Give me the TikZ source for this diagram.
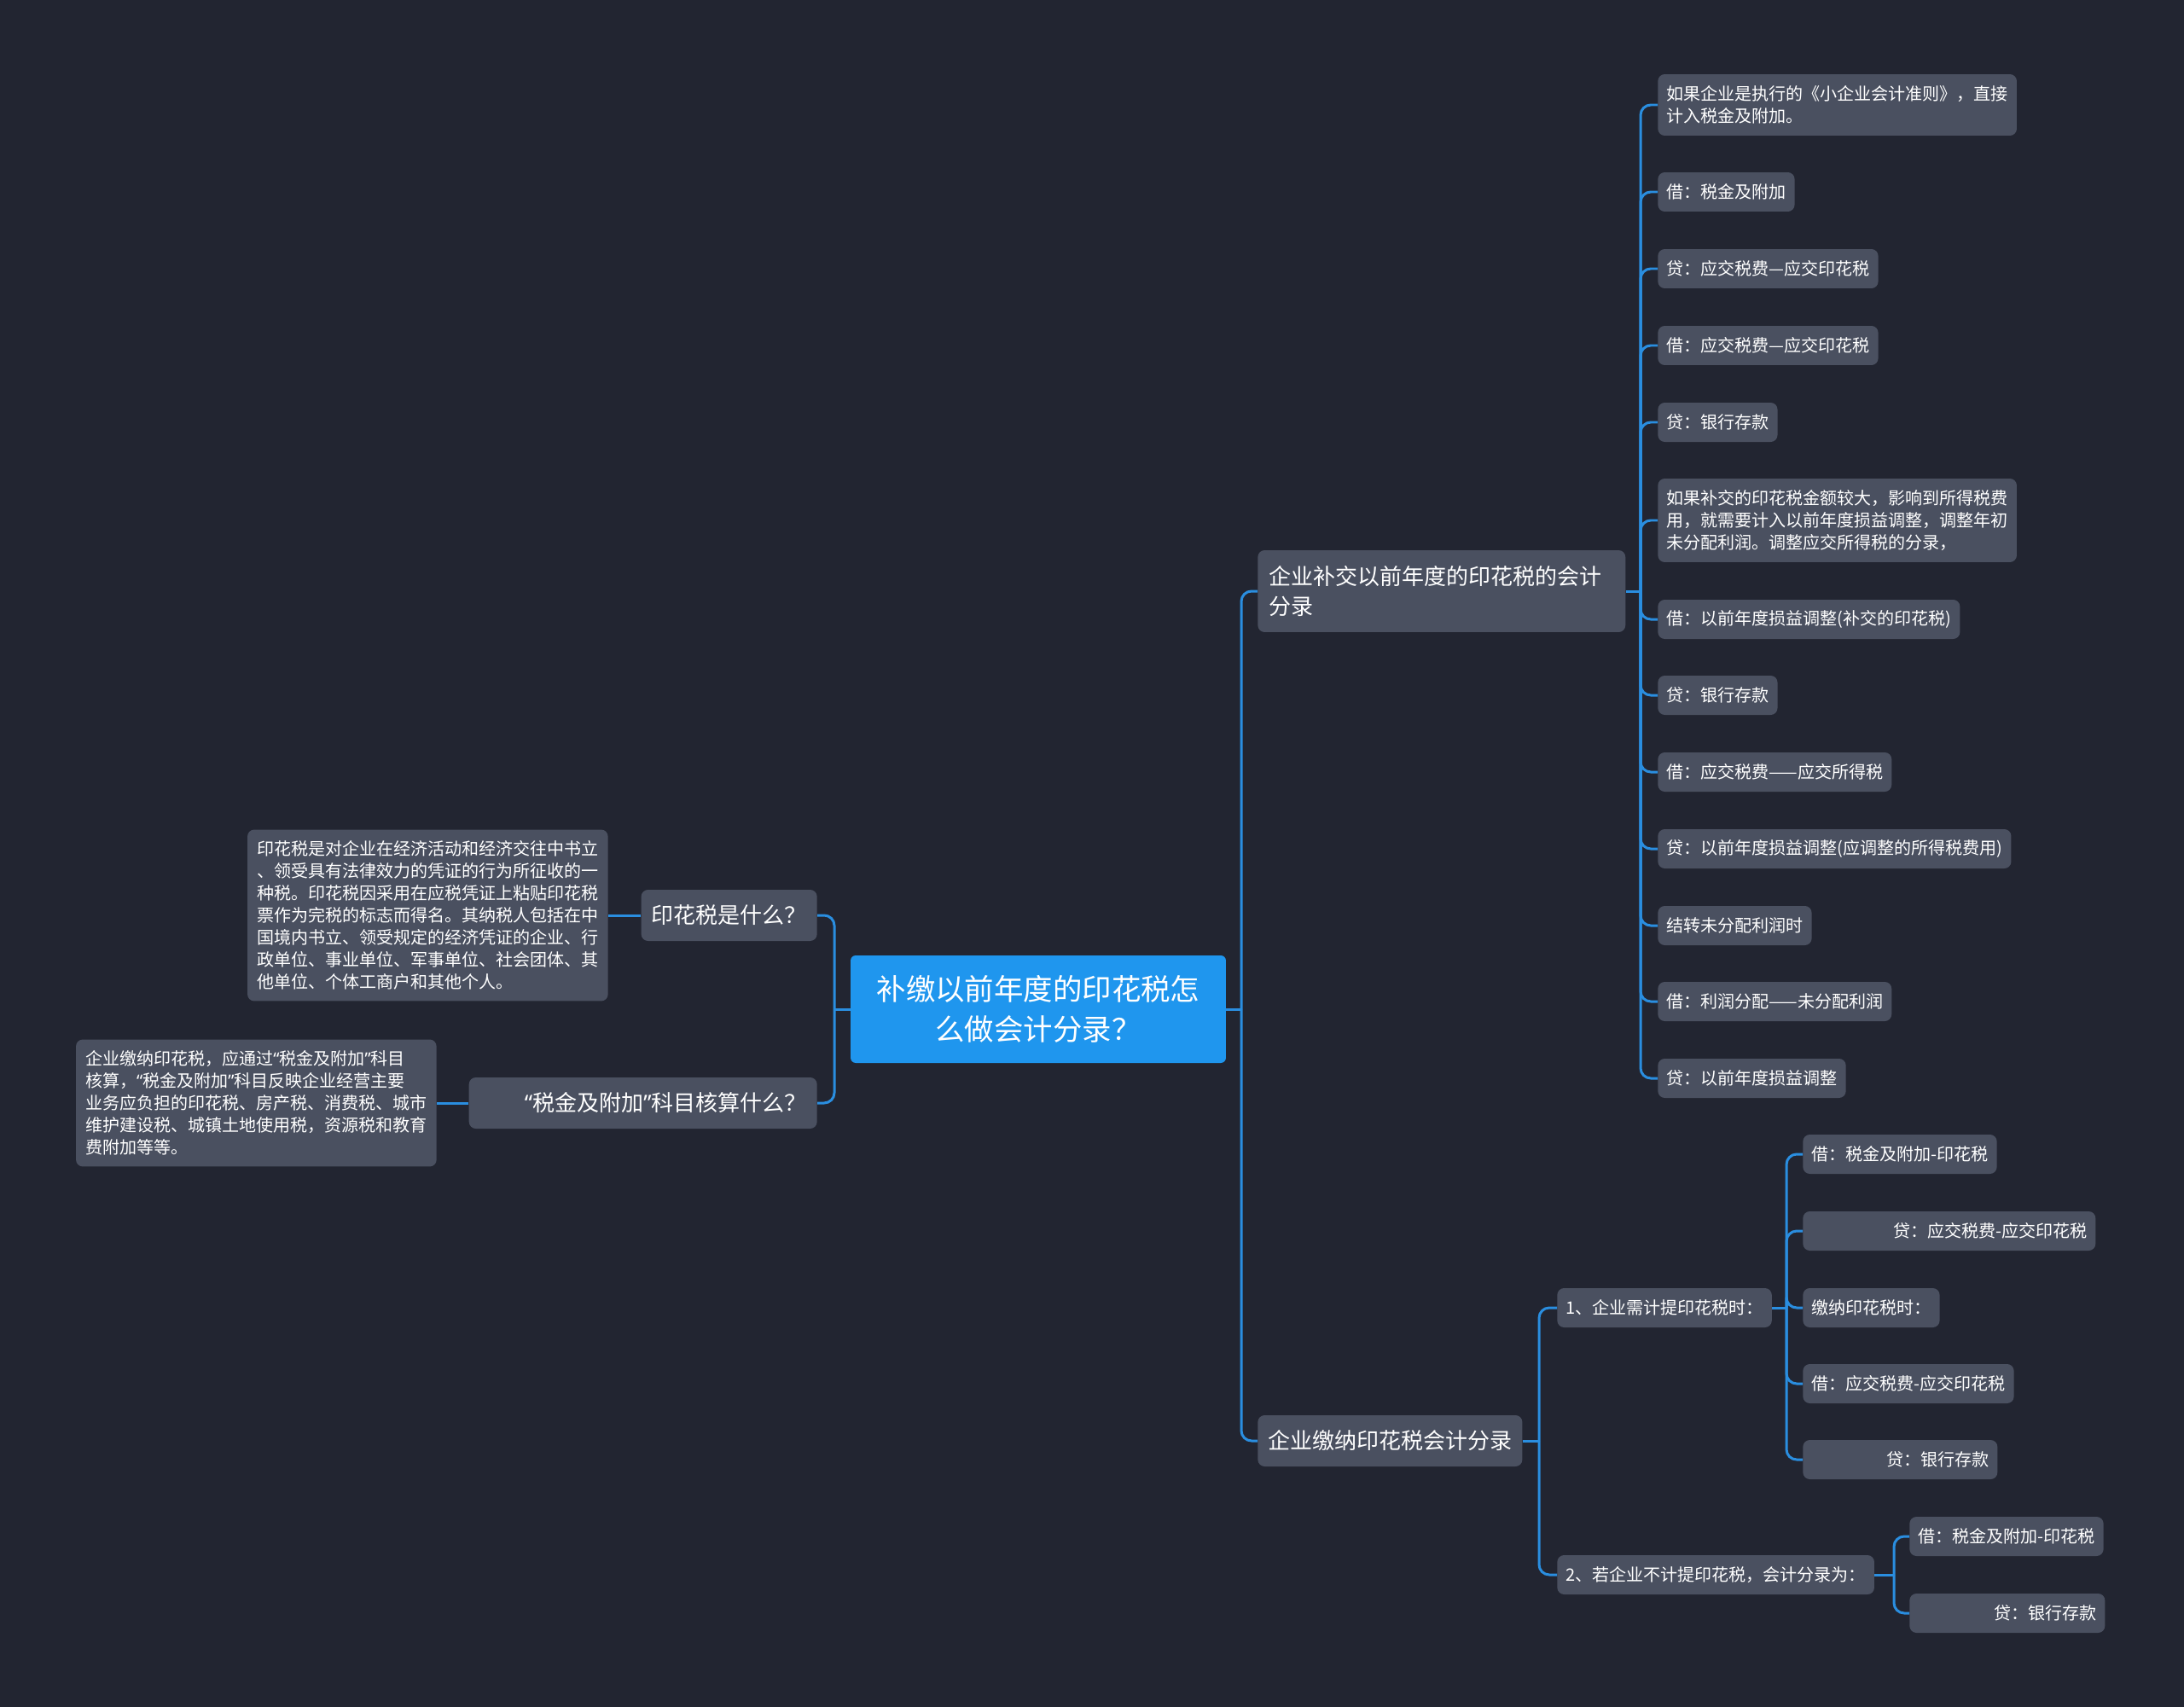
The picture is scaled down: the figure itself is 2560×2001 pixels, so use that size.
\documentclass[tikz,border=0pt]{standalone}
\usepackage{fontspec}
\setmainfont{Noto Sans CJK SC}
\newfontfamily\quotefont{Noto Sans}
\usepackage{xcolor}
\usepackage{tikz}
\definecolor{BgDark}{RGB}{34,37,49}
\definecolor{BoxGray}{RGB}{74,80,96}
\definecolor{LinkBlue}{RGB}{42,142,224}
\definecolor{RootBlue}{RGB}{31,150,238}
\newcommand{\leafsize}{\fontsize{11.4}{14.8}\selectfont}
\newcommand{\branchsize}{\fontsize{14.8}{19.9}\selectfont}
\newcommand{\rootsize}{\fontsize{19.6}{26.7}\selectfont}
\newcommand{\qopen}{{\quotefont “}}
\newcommand{\qclose}{{\quotefont ”}}
\tikzset{
	leaf/.style={fill=BoxGray, text=white, rounded corners=0.16cm, font=\leafsize,
		inner xsep=0.2cm, inner ysep=0pt, minimum height=0.92cm, anchor=west, align=left},
	branch/.style={leaf, font=\branchsize, inner xsep=0.24cm, minimum height=1.2cm},
	rootbox/.style={fill=RootBlue, text=white, rounded corners=0.12cm, font=\rootsize,
		align=center, minimum width=8.8cm, minimum height=2.52cm},
	link/.style={draw=LinkBlue, line width=1.7pt, rounded corners=0.24cm}
}
\begin{document}
\begin{tikzpicture}[x=0.02cm, y=-0.02cm]
		\fill[BgDark] (0,0) rectangle (2560,2001);
		
		\node[rootbox] (root) at (1217,1183) {补缴以前年度的印花税怎\\么做会计分录？};
		
		% right side
		\node[branch, text width=8.1cm, inner xsep=0.26cm, minimum height=1.92cm] (b1) at (1474,693) {企业补交以前年度的印花税的会计\\分录};
		\node[branch] (b2) at (1474,1689) {企业缴纳印花税会计分录};
		
		\node[leaf, minimum height=1.44cm] (a1) at (1943,123) {如果企业是执行的《小企业会计准则》，直接\\计入税金及附加。};
		\node[leaf] (a2) at (1943,225) {借：税金及附加};
		\node[leaf] (a3) at (1943,315) {贷：应交税费—应交印花税};
		\node[leaf] (a4) at (1943,405) {借：应交税费—应交印花税};
		\node[leaf] (a5) at (1943,495) {贷：银行存款};
		\node[leaf, minimum height=1.96cm] (a6) at (1943,610) {如果补交的印花税金额较大，影响到所得税费\\用，就需要计入以前年度损益调整，调整年初\\未分配利润。调整应交所得税的分录，};
		\node[leaf] (a7) at (1943,726) {借：以前年度损益调整(补交的印花税)};
		\node[leaf] (a8) at (1943,815) {贷：银行存款};
		\node[leaf] (a9) at (1943,905) {借：应交税费——应交所得税};
		\node[leaf] (a10) at (1943,995) {贷：以前年度损益调整(应调整的所得税费用)};
		\node[leaf] (a11) at (1943,1085) {结转未分配利润时};
		\node[leaf] (a12) at (1943,1174) {借：利润分配——未分配利润};
		\node[leaf] (a13) at (1943,1264) {贷：以前年度损益调整};
		
		\node[leaf] (s1) at (1825,1533) {1、企业需计提印花税时：};
		\node[leaf] (s2) at (1825,1846) {2、若企业不计提印花税，会计分录为：};
		
		\node[leaf] (c1) at (2113,1353) {借：税金及附加-印花税};
		\node[leaf, text width=6.46cm, align=right] (c2) at (2113,1443) {贷：应交税费-应交印花税};
		\node[leaf] (c3) at (2113,1533) {缴纳印花税时：};
		\node[leaf] (c4) at (2113,1622) {借：应交税费-应交印花税};
		\node[leaf, text width=4.16cm, align=right] (c5) at (2113,1711) {贷：银行存款};
		
		\node[leaf] (m1) at (2238,1801) {借：税金及附加-印花税};
		\node[leaf, text width=4.18cm, align=right] (m2) at (2238,1891) {贷：银行存款};
		
		% left side
		\node[branch, anchor=east] (q1) at (958,1073) {印花税是什么？};
		\node[branch, anchor=east, text width=7.68cm, align=right] (q2) at (958,1293) {\qopen 税金及附加\qclose 科目核算什么？};
		\node[leaf, anchor=east, inner xsep=0.22cm, minimum height=4.02cm] (d1) at (713,1073) {印花税是对企业在经济活动和经济交往中书立\\、领受具有法律效力的凭证的行为所征收的一\\种税。印花税因采用在应税凭证上粘贴印花税\\票作为完税的标志而得名。其纳税人包括在中\\国境内书立、领受规定的经济凭证的企业、行\\政单位、事业单位、军事单位、社会团体、其\\他单位、个体工商户和其他个人。};
		\node[leaf, anchor=east, inner xsep=0.22cm, minimum height=2.98cm] (d2) at (512,1293) {企业缴纳印花税，应通过\qopen 税金及附加\qclose 科目\\核算，\qopen 税金及附加\qclose 科目反映企业经营主要\\业务应负担的印花税、房产税、消费税、城市\\维护建设税、城镇土地使用税，资源税和教育\\费附加等等。};
		
		% connectors
		\coordinate (jr) at (1455,1183);
		\coordinate (jb1) at (1923,693);
		\coordinate (jb2) at (1804,1689);
		\coordinate (js1) at (2094,1533);
		\coordinate (js2) at (2220,1846);
		\coordinate (jl) at (978,1183);
		
		\draw[link] (root.east) -- (jr);
		\draw[link] (jr) |- (b1.west);
		\draw[link] (jr) |- (b2.west);
		
		\draw[link] (b1.east) -- (jb1);
		\foreach \i in {1,...,13}
			\draw[link] (jb1) |- (a\i.west);
		
		\draw[link] (b2.east) -- (jb2);
		\draw[link] (jb2) |- (s1.west);
		\draw[link] (jb2) |- (s2.west);
		
		\draw[link] (s1.east) -- (js1);
		\foreach \i in {1,...,5}
			\draw[link] (js1) |- (c\i.west);
		
		\draw[link] (s2.east) -- (js2);
		\draw[link] (js2) |- (m1.west);
		\draw[link] (js2) |- (m2.west);
		
		\draw[link] (root.west) -- (jl);
		\draw[link] (jl) |- (q1.east);
		\draw[link] (jl) |- (q2.east);
		\draw[link] (q1.west) -- (d1.east);
		\draw[link] (q2.west) -- (d2.east);
	\end{tikzpicture}
\end{document}
